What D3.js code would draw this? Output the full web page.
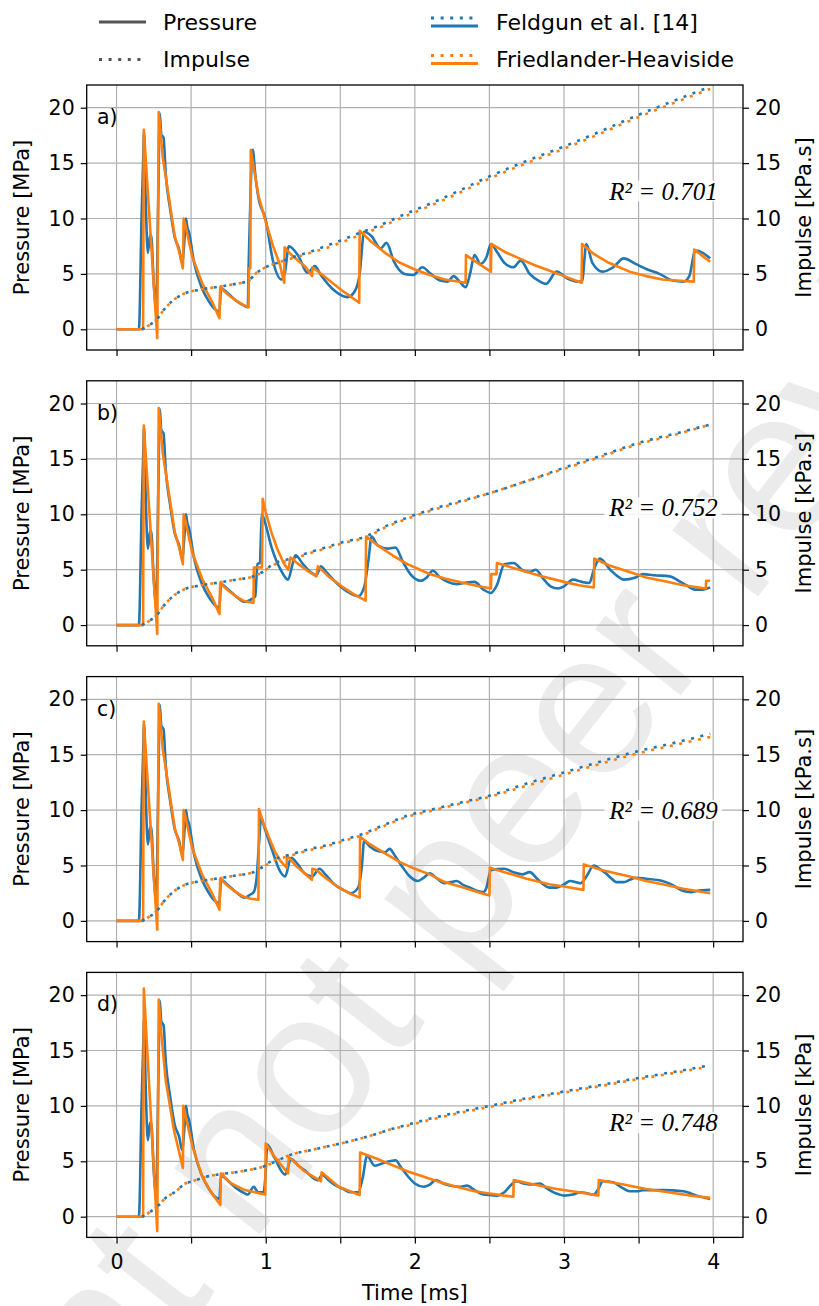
<!DOCTYPE html>
<html>
<head>
<meta charset="utf-8">
<script src="https://cdn.jsdelivr.net/npm/d3@7"></script>
<style>
  body { margin: 0; background: #fff; }
  text { font-family: "DejaVu Sans", sans-serif; fill: #000; }
</style>
</head>
<body>
<svg id="chart" width="819" height="1306"></svg>
<script>
// ---- data (time in ms, pressure in MPa, impulse in kPa.s) ----
const panelLabels = ['a)', 'b)', 'c)', 'd)'];
const r2Labels = ['R\u00b2 = 0.701', 'R\u00b2 = 0.752', 'R\u00b2 = 0.689', 'R\u00b2 = 0.748'];
const r2Levels = [12.5, 10.6, 10.0, 8.5];
const impulseTitles = ['Impulse [kPa.s]', 'Impulse [kPa.s]', 'Impulse [kPa.s]', 'Impulse [kPa]'];
const xTicks = [0, 0.5, 1, 1.5, 2, 2.5, 3, 3.5, 4];
const yTicks = [0, 5, 10, 15, 20];

// first arrivals, the same in every panel
const feldgunOnset = [[0, 0], [0.15, 0], [0.168, 10.2], [0.178, 15], [0.185, 17.8], [0.195, 12], [0.21, 6.9],
  [0.225, 8.5], [0.232, 8.5], [0.25, 4], [0.265, 2.0], [0.28, 12], [0.29, 19.5], [0.30, 17.6], [0.315, 17.3],
  [0.33, 14], [0.36, 10.8], [0.39, 8.3], [0.42, 7.2], [0.44, 6.0], [0.455, 8], [0.465, 10], [0.475, 9.2],
  [0.485, 8.8], [0.52, 6.0], [0.57, 3.8], [0.62, 2.5], [0.66, 1.8], [0.69, 1.6], [0.70, 3.7], [0.75, 3.2],
  [0.8, 2.6], [0.86, 2.1]];
const friedlanderOnset = [[0, 0], [0.178, 0], [0.183, 18.0], [0.273, -0.8], [0.283, 19.6], [0.31, 15.5],
  [0.35, 12.0], [0.39, 8.4], [0.42, 7.0], [0.445, 5.5], [0.45, 10.0], [0.46, 9.5], [0.507, 6.6], [0.573, 4.2],
  [0.64, 2.5], [0.69, 1.0], [0.695, 3.8], [0.75, 3.1], [0.8, 2.6], [0.85, 2.2]];
const impulseOnset = [[0.17, 0], [0.21, 0.3], [0.27, 0.9], [0.32, 1.8], [0.37, 2.5], [0.45, 3.2], [0.57, 3.6],
  [0.69, 3.85], [0.8, 4.1]];

// a)
const feldgunA = feldgunOnset.concat([[0.88, 2.0], [0.885, 5.4], [0.9, 13], [0.913, 16.2], [0.93, 14],
  [0.95, 12], [1.0, 9.9], [1.05, 6.1], [1.107, 4.5], [1.13, 5.2], [1.155, 7.5], [1.22, 6.6], [1.28, 5.1],
  [1.33, 5.7], [1.37, 4.9], [1.46, 3.5], [1.55, 2.9], [1.6, 3.5], [1.63, 5.0], [1.66, 8.8], [1.71, 8.4],
  [1.77, 7.3], [1.81, 7.8], [1.86, 6.1], [1.93, 5.0], [1.99, 4.9], [2.05, 5.6], [2.107, 5.0], [2.17, 4.4],
  [2.22, 4.3], [2.26, 4.8], [2.30, 4.3], [2.34, 3.8], [2.37, 5.0], [2.40, 6.7], [2.44, 5.9], [2.48, 6.5],
  [2.51, 7.7], [2.55, 7.0], [2.60, 6.0], [2.66, 5.6], [2.71, 6.2], [2.77, 5.0], [2.84, 4.3], [2.88, 4.1],
  [2.95, 5.2], [3.02, 4.6], [3.09, 4.3], [3.12, 4.3], [3.15, 7.7], [3.19, 6.0], [3.26, 5.2], [3.33, 5.6],
  [3.40, 6.4], [3.48, 5.9], [3.56, 5.4], [3.64, 5.0], [3.73, 4.4], [3.80, 4.3], [3.84, 4.8], [3.88, 7.1],
  [3.93, 6.9], [3.98, 6.4]]);
const friedlanderA = friedlanderOnset.concat([[0.885, 2.0], [0.888, 5.5], [0.897, 5.5], [0.9, 16.2],
  [0.951, 12.1], [0.996, 9.9], [1.05, 7.5], [1.096, 5.8], [1.124, 4.2], [1.127, 7.4], [1.173, 6.7],
  [1.262, 5.7], [1.311, 4.8], [1.314, 5.6], [1.396, 4.75], [1.507, 3.55], [1.57, 2.95], [1.627, 2.4],
  [1.63, 8.9], [1.7, 8.0], [1.8, 6.9], [1.9, 6.0], [2.0, 5.4], [2.1, 4.9], [2.2, 4.5], [2.34, 4.2],
  [2.343, 6.7], [2.42, 6.0], [2.51, 5.2], [2.513, 7.7], [2.6, 7.0], [2.7, 6.4], [2.8, 5.8], [2.9, 5.3],
  [3.0, 4.8], [3.118, 4.2], [3.121, 7.7], [3.2, 6.8], [3.3, 6.0], [3.44, 5.2], [3.55, 4.8], [3.66, 4.5],
  [3.75, 4.4], [3.87, 4.3], [3.873, 7.2], [3.93, 6.6], [3.98, 6.1]]);
const feldgunImpulseA = impulseOnset.concat([[0.885, 4.4], [0.93, 5.0], [1.0, 5.6], [1.1, 6.1], [1.2, 6.6],
  [1.3, 7.0], [1.4, 7.5], [1.5, 8.0], [1.63, 8.7], [1.75, 9.3], [1.9, 10.2], [2.06, 11.1], [2.28, 12.4],
  [2.5, 13.8], [2.75, 15.2], [3.0, 16.5], [3.25, 17.9], [3.49, 19.3], [3.75, 20.7], [3.98, 21.9]]);
const friedlanderImpulseA = impulseOnset.concat([[0.885, 4.4], [0.93, 5.0], [1.0, 5.6], [1.1, 6.1],
  [1.2, 6.5], [1.3, 6.9], [1.4, 7.3], [1.5, 7.8], [1.63, 8.5], [1.75, 9.1], [1.9, 10.0], [2.06, 10.9],
  [2.28, 12.2], [2.5, 13.6], [2.75, 15.0], [3.0, 16.3], [3.25, 17.7], [3.49, 19.1], [3.75, 20.5], [3.98, 21.7]]);

// b)
const feldgunB = feldgunOnset.concat([[0.9, 2.3], [0.93, 2.6], [0.945, 5.5], [0.96, 5.6], [0.975, 10.0],
  [0.99, 9.5], [1.04, 7.0], [1.1, 5.0], [1.15, 4.1], [1.18, 5.5], [1.2, 6.3], [1.25, 5.5], [1.3, 4.8],
  [1.34, 4.5], [1.37, 5.3], [1.4, 4.9], [1.46, 4.0], [1.55, 3.0], [1.62, 2.6], [1.66, 3.4], [1.69, 6],
  [1.71, 8.0], [1.75, 7.2], [1.82, 6.9], [1.87, 7.0], [1.92, 5.7], [1.97, 4.6], [2.04, 4.0], [2.08, 4.3],
  [2.12, 4.9], [2.17, 4.3], [2.22, 3.9], [2.28, 3.7], [2.33, 3.8], [2.40, 3.9], [2.46, 3.2], [2.51, 2.9],
  [2.55, 3.6], [2.6, 5.5], [2.66, 5.6], [2.73, 4.9], [2.77, 4.8], [2.81, 5.0], [2.86, 4.2], [2.91, 3.5],
  [2.96, 3.3], [3.0, 3.5], [3.06, 4.1], [3.12, 3.9], [3.17, 3.8], [3.2, 5.0], [3.24, 6.0], [3.31, 5.0],
  [3.36, 4.4], [3.40, 4.1], [3.48, 4.3], [3.53, 4.6], [3.6, 4.5], [3.71, 4.4], [3.77, 4.0], [3.82, 3.6],
  [3.88, 3.2], [3.93, 3.2], [3.98, 3.4]]);
const friedlanderB = friedlanderOnset.concat([[0.918, 2.0], [0.921, 5.2], [0.975, 5.2], [0.98, 11.4],
  [1.0, 10.2], [1.04, 8.3], [1.08, 6.8], [1.12, 5.6], [1.151, 5.0], [1.167, 6.1], [1.22, 5.5], [1.28, 4.9],
  [1.34, 4.4], [1.35, 5.3], [1.43, 4.3], [1.51, 3.5], [1.59, 2.8], [1.67, 2.2], [1.673, 8.0], [1.75, 7.2],
  [1.85, 6.3], [1.95, 5.5], [2.05, 4.9], [2.1, 4.6], [2.2, 4.2], [2.33, 3.8], [2.43, 3.5], [2.51, 3.3],
  [2.513, 4.6], [2.547, 4.6], [2.55, 5.6], [2.7, 5.0], [2.85, 4.4], [3.0, 3.9], [3.1, 3.6], [3.2, 3.4],
  [3.203, 6.0], [3.3, 5.4], [3.44, 4.8], [3.55, 4.3], [3.66, 4.0], [3.8, 3.6], [3.95, 3.3], [3.953, 4.0],
  [3.98, 4.0]]);
const feldgunImpulseB = impulseOnset.concat([[0.92, 4.4], [0.98, 4.8], [1.05, 5.5], [1.17, 6.0], [1.3, 6.6],
  [1.4, 7.0], [1.52, 7.5], [1.67, 8.0], [1.8, 8.9], [1.95, 9.7], [2.1, 10.4], [2.28, 11.1], [2.5, 11.9],
  [2.75, 13.0], [3.0, 14.2], [3.25, 15.3], [3.49, 16.4], [3.75, 17.3], [3.98, 18.1]]);
const friedlanderImpulseB = impulseOnset.concat([[0.92, 4.4], [0.98, 4.8], [1.05, 5.4], [1.17, 5.9],
  [1.3, 6.5], [1.4, 6.9], [1.52, 7.4], [1.67, 7.9], [1.8, 8.8], [1.95, 9.6], [2.1, 10.3], [2.28, 11.0],
  [2.5, 11.9], [2.75, 13.0], [3.0, 14.1], [3.25, 15.2], [3.49, 16.3], [3.75, 17.2], [3.98, 18.1]]);

// c)
const feldgunC = feldgunOnset.concat([[0.9, 2.4], [0.92, 2.6], [0.94, 4.0], [0.955, 7.0], [0.97, 9.3],
  [0.99, 8.5], [1.04, 6.5], [1.1, 4.4], [1.13, 4.0], [1.17, 5.7], [1.21, 5.2], [1.26, 4.3], [1.31, 4.0],
  [1.36, 4.7], [1.4, 4.2], [1.46, 3.3], [1.52, 2.8], [1.57, 2.5], [1.62, 3.0], [1.645, 5], [1.66, 7.2],
  [1.7, 6.7], [1.75, 6.3], [1.8, 6.2], [1.83, 6.5], [1.87, 5.8], [1.91, 5.0], [1.96, 4.1], [2.02, 3.6],
  [2.06, 3.9], [2.10, 4.3], [2.15, 3.8], [2.20, 3.4], [2.24, 3.5], [2.28, 3.6], [2.33, 3.2], [2.37, 3.0],
  [2.42, 2.7], [2.46, 2.6], [2.48, 3.0], [2.51, 4.6], [2.6, 4.7], [2.66, 4.4], [2.72, 4.2], [2.77, 4.4],
  [2.82, 3.8], [2.86, 3.3], [2.9, 3.0], [2.95, 3.0], [3.0, 3.3], [3.04, 3.6], [3.11, 3.4], [3.15, 4.0],
  [3.2, 5.0], [3.24, 4.7], [3.28, 4.3], [3.32, 3.8], [3.35, 3.5], [3.4, 3.5], [3.44, 3.7], [3.48, 3.9],
  [3.55, 3.8], [3.66, 3.6], [3.72, 3.3], [3.8, 2.7], [3.85, 2.6], [3.89, 2.7], [3.98, 2.8]]);
const friedlanderC = friedlanderOnset.concat([[0.9, 2.0], [0.951, 1.9], [0.955, 10.1], [0.98, 9.0],
  [1.02, 7.6], [1.06, 6.3], [1.1, 5.4], [1.14, 4.8], [1.143, 5.9], [1.2, 5.0], [1.26, 4.3], [1.31, 3.7],
  [1.313, 4.7], [1.34, 4.6], [1.4, 3.9], [1.48, 3.1], [1.56, 2.5], [1.63, 2.1], [1.633, 7.6], [1.7, 6.9],
  [1.8, 6.1], [1.9, 5.3], [2.0, 4.7], [2.1, 4.2], [2.2, 3.5], [2.33, 3.0], [2.42, 2.6], [2.5, 2.3],
  [2.503, 4.8], [2.6, 4.4], [2.75, 3.8], [2.9, 3.3], [3.0, 3.1], [3.13, 2.8], [3.133, 5.1], [3.25, 4.6],
  [3.44, 4.0], [3.55, 3.6], [3.66, 3.3], [3.8, 2.9], [3.98, 2.5]]);
const feldgunImpulseC = impulseOnset.concat([[0.92, 4.4], [0.96, 4.7], [1.05, 5.5], [1.17, 6.0], [1.3, 6.5],
  [1.4, 6.8], [1.52, 7.3], [1.64, 7.8], [1.8, 8.7], [1.95, 9.5], [2.1, 10.0], [2.28, 10.6], [2.5, 11.3],
  [2.75, 12.4], [3.0, 13.4], [3.25, 14.4], [3.49, 15.3], [3.75, 16.1], [3.98, 16.9]]);
const friedlanderImpulseC = impulseOnset.concat([[0.92, 4.4], [0.96, 4.7], [1.05, 5.4], [1.17, 5.9],
  [1.3, 6.4], [1.4, 6.7], [1.52, 7.2], [1.64, 7.7], [1.8, 8.6], [1.95, 9.4], [2.1, 9.9], [2.28, 10.5],
  [2.5, 11.2], [2.75, 12.2], [3.0, 13.2], [3.25, 14.2], [3.49, 15.1], [3.75, 15.9], [3.98, 16.6]]);

// d)
const feldgunD = feldgunOnset.concat([[0.88, 2.0], [0.92, 2.7], [0.95, 2.2], [0.985, 2.2], [1.0, 4],
  [1.01, 6.5], [1.06, 5.3], [1.13, 3.8], [1.17, 5.2], [1.22, 4.6], [1.26, 4.2], [1.35, 3.3], [1.38, 3.8],
  [1.42, 3.3], [1.46, 2.9], [1.52, 2.5], [1.57, 2.2], [1.62, 2.2], [1.65, 3.5], [1.68, 5.5], [1.73, 4.6],
  [1.8, 4.9], [1.87, 5.1], [1.91, 4.4], [1.95, 3.7], [2.0, 3.0], [2.06, 2.7], [2.1, 2.9], [2.14, 3.3],
  [2.19, 3.0], [2.24, 2.8], [2.3, 2.7], [2.35, 2.8], [2.4, 2.4], [2.44, 2.1], [2.5, 1.95], [2.55, 1.9],
  [2.6, 2.2], [2.64, 2.8], [2.68, 3.2], [2.73, 3.0], [2.77, 2.9], [2.84, 3.0], [2.88, 2.6], [2.93, 2.2],
  [2.97, 2.0], [3.0, 1.9], [3.06, 2.0], [3.11, 2.2], [3.16, 2.1], [3.2, 2.0], [3.23, 2.5], [3.26, 3.2],
  [3.33, 3.1], [3.38, 2.7], [3.44, 2.3], [3.5, 2.3], [3.53, 2.4], [3.66, 2.4], [3.8, 2.3], [3.85, 2.1],
  [3.89, 1.9], [3.98, 1.6]]);
const friedlanderD = [[0, 0], [0.178, 0], [0.183, 20.6], [0.273, -1.3], [0.283, 19.6], [0.30, 16.5],
  [0.33, 12.3], [0.385, 7.8], [0.445, 4.4], [0.448, 10.0], [0.51, 6.3], [0.575, 3.6], [0.64, 2.1],
  [0.696, 1.05], [0.699, 3.9], [0.77, 3.0], [0.86, 2.4], [0.997, 2.0], [1.0, 6.6], [1.06, 5.4], [1.15, 3.9],
  [1.155, 5.4], [1.26, 4.1], [1.37, 3.2], [1.375, 4.0], [1.49, 2.7], [1.63, 1.95], [1.633, 5.8], [1.75, 5.2],
  [1.84, 4.7], [1.95, 4.1], [2.06, 3.6], [2.17, 3.1], [2.28, 2.7], [2.4, 2.3], [2.5, 2.1], [2.6, 1.9],
  [2.66, 1.8], [2.663, 3.3], [2.8, 2.9], [2.95, 2.5], [3.1, 2.2], [3.23, 1.9], [3.233, 3.3], [3.4, 2.9],
  [3.55, 2.5], [3.7, 2.2], [3.85, 1.9], [3.98, 1.7]];
const feldgunImpulseD = [[0.17, 0], [0.21, 0.3], [0.28, 1.0], [0.33, 1.7], [0.40, 2.3], [0.45, 2.9],
  [0.51, 3.2], [0.6, 3.6], [0.68, 3.8], [0.84, 4.1], [1.0, 4.6], [1.1, 5.2], [1.17, 5.6], [1.3, 6.0],
  [1.4, 6.3], [1.5, 6.6], [1.62, 7.0], [1.75, 7.5], [1.84, 7.9], [1.95, 8.3], [2.06, 8.7], [2.28, 9.4],
  [2.5, 10.0], [2.75, 10.7], [3.0, 11.3], [3.25, 11.9], [3.49, 12.5], [3.75, 13.1], [3.95, 13.6]];
const friedlanderImpulseD = [[0.17, 0], [0.21, 0.3], [0.28, 1.0], [0.33, 1.7], [0.40, 2.3], [0.45, 2.9],
  [0.51, 3.2], [0.6, 3.6], [0.68, 3.8], [0.84, 4.1], [1.0, 4.6], [1.1, 5.2], [1.17, 5.6], [1.3, 6.0],
  [1.4, 6.3], [1.5, 6.6], [1.62, 7.0], [1.75, 7.5], [1.84, 7.9], [1.95, 8.2], [2.06, 8.6], [2.28, 9.3],
  [2.5, 9.9], [2.75, 10.6], [3.0, 11.2], [3.25, 11.8], [3.49, 12.4], [3.75, 13.0], [3.95, 13.5]];

const legendStyles = ['Pressure', 'Impulse'];
const legendSeries = ['Feldgun et al. [14]', 'Friedlander-Heaviside'];
const colors = { feldgun: '#1f77b4', friedlander: '#ff7f0e' };

const panels = [
  { fp: feldgunA, hp: friedlanderA, fi: feldgunImpulseA, hi: friedlanderImpulseA },
  { fp: feldgunB, hp: friedlanderB, fi: feldgunImpulseB, hi: friedlanderImpulseB },
  { fp: feldgunC, hp: friedlanderC, fi: feldgunImpulseC, hi: friedlanderImpulseC },
  { fp: feldgunD, hp: friedlanderD, fi: feldgunImpulseD, hi: friedlanderImpulseD },
];

// ---- layout ----
const svg = d3.select('#chart');
const plotLeft = 86.7;
const plotRight = 743;
const panelH = 265;
const panelStep = 295.8;
const firstTop = 85;
const lineW = 2.6;
const dotDash = '3,6.6';

// watermark behind everything
svg.append('text')
  .attr('transform', 'translate(-226,1856) rotate(-52)')
  .style('font-family', '"Liberation Sans", sans-serif')
  .style('font-size', '205px')
  .style('fill', '#ebebeb')
  .text('Preprint not peer reviewed');

const x = d3.scaleLinear().domain([-0.2, 4.2]).range([plotLeft, plotRight]);

panels.forEach((p, i) => {
  const top = firstTop + i * panelStep;
  const bottom = top + panelH;
  const y = d3.scaleLinear().domain([-1.87, 22.05]).range([bottom, top]);
  const g = svg.append('g');

  // grid
  g.selectAll('.vgrid').data(xTicks).join('line')
    .attr('x1', (d) => x(d)).attr('x2', (d) => x(d))
    .attr('y1', top).attr('y2', bottom)
    .attr('stroke', '#b0b0b0').attr('stroke-width', 1.2);
  g.selectAll('.hgrid').data(yTicks).join('line')
    .attr('x1', plotLeft).attr('x2', plotRight)
    .attr('y1', (d) => y(d)).attr('y2', (d) => y(d))
    .attr('stroke', '#b0b0b0').attr('stroke-width', 1.2);

  const line = d3.line().x((d) => x(d[0])).y((d) => y(d[1]));
  const smooth = d3.line().curve(d3.curveMonotoneX).x((d) => x(d[0])).y((d) => y(d[1]));

  // pressure
  g.append('path').datum(p.fp).attr('d', smooth)
    .attr('fill', 'none').attr('stroke', colors.feldgun).attr('stroke-width', lineW)
    .attr('stroke-linejoin', 'round');
  g.append('path').datum(p.hp).attr('d', line)
    .attr('fill', 'none').attr('stroke', colors.friedlander).attr('stroke-width', lineW)
    .attr('stroke-linejoin', 'round');

  // impulse (twin axis, same scale)
  g.append('path').datum(p.fi).attr('d', smooth)
    .attr('fill', 'none').attr('stroke', colors.feldgun).attr('stroke-width', lineW)
    .attr('stroke-dasharray', dotDash);
  g.append('path').datum(p.hi).attr('d', smooth)
    .attr('fill', 'none').attr('stroke', colors.friedlander).attr('stroke-width', lineW)
    .attr('stroke-dasharray', dotDash).attr('stroke-dashoffset', 3.6);

  // R² box
  const r2 = g.append('text')
    .attr('x', x(4.03)).attr('y', y(r2Levels[i]))
    .attr('dy', '0.35em')
    .attr('text-anchor', 'end')
    .style('font-family', '"Liberation Serif", serif')
    .style('font-style', 'italic')
    .style('font-size', '25px')
    .text(r2Labels[i]);
  const bb = r2.node().getBBox();
  g.insert('rect', () => r2.node())
    .attr('x', bb.x - 4).attr('y', bb.y + 3)
    .attr('width', bb.width + 8).attr('height', bb.height - 6)
    .attr('fill', '#fff').attr('fill-opacity', 0.85);

  // axes
  const styleAxis = (sel) => {
    sel.select('.domain').remove();
    sel.selectAll('.tick line').attr('stroke', '#000').attr('stroke-width', 1.2);
    sel.selectAll('.tick text').style('font-size', '20.5px').style('font-family', '"DejaVu Sans", sans-serif')
      .attr('fill', '#000');
  };
  g.append('g').attr('transform', `translate(${plotLeft},0)`)
    .call(d3.axisLeft(y).tickValues(yTicks).tickSize(6).tickPadding(6))
    .call(styleAxis);
  g.append('g').attr('transform', `translate(${plotRight},0)`)
    .call(d3.axisRight(y).tickValues(yTicks).tickSize(6).tickPadding(6))
    .call(styleAxis);
  const last = i === panels.length - 1;
  g.append('g').attr('transform', `translate(0,${bottom})`)
    .call(d3.axisBottom(x).tickValues(xTicks).tickSize(6).tickPadding(11)
      .tickFormat((d) => (last && Number.isInteger(d) ? d : '')))
    .call(styleAxis);

  // frame
  g.append('rect').attr('x', plotLeft).attr('y', top)
    .attr('width', plotRight - plotLeft).attr('height', panelH)
    .attr('fill', 'none').attr('stroke', '#000').attr('stroke-width', 1.3);

  // labels
  g.append('text').attr('x', 97).attr('y', top + 39)
    .style('font-size', '20.5px').text(panelLabels[i]);
  g.append('text')
    .attr('transform', `translate(29,${top + panelH / 2}) rotate(-90)`)
    .attr('text-anchor', 'middle').style('font-size', '21px')
    .text('Pressure [MPa]');
  g.append('text')
    .attr('transform', `translate(811,${top + panelH / 2}) rotate(-90)`)
    .attr('text-anchor', 'middle').style('font-size', '21px')
    .text(impulseTitles[i]);
});

svg.append('text')
  .attr('x', x(2)).attr('y', 1300)
  .attr('text-anchor', 'middle').style('font-size', '21px')
  .text('Time [ms]');

// legend: line style column, then colour column
const legend = svg.append('g');
legend.selectAll('.style-line').data(legendStyles).join('line')
  .attr('x1', 99).attr('x2', 146)
  .attr('y1', (d, k) => 22 + k * 37.5).attr('y2', (d, k) => 22 + k * 37.5)
  .attr('stroke', '#555').attr('stroke-width', 2.8)
  .attr('stroke-dasharray', (d, k) => (k === 1 ? dotDash : null));
legend.selectAll('.style-text').data(legendStyles).join('text')
  .attr('x', 163).attr('y', (d, k) => 22 + k * 37.5).attr('dy', '0.36em')
  .style('font-size', '22px').text((d) => d);
const seriesColors = [colors.feldgun, colors.friedlander];
legendSeries.forEach((name, k) => {
  const cy = 22 + k * 37.5;
  legend.append('line').attr('x1', 431).attr('x2', 478).attr('y1', cy - 4).attr('y2', cy - 4)
    .attr('stroke', seriesColors[k]).attr('stroke-width', 2.8).attr('stroke-dasharray', dotDash);
  legend.append('line').attr('x1', 431).attr('x2', 478).attr('y1', cy + 4).attr('y2', cy + 4)
    .attr('stroke', seriesColors[k]).attr('stroke-width', 2.8);
  legend.append('text').attr('x', 496).attr('y', cy).attr('dy', '0.36em')
    .style('font-size', '22px').text(name);
});
</script>
</body>
</html>
